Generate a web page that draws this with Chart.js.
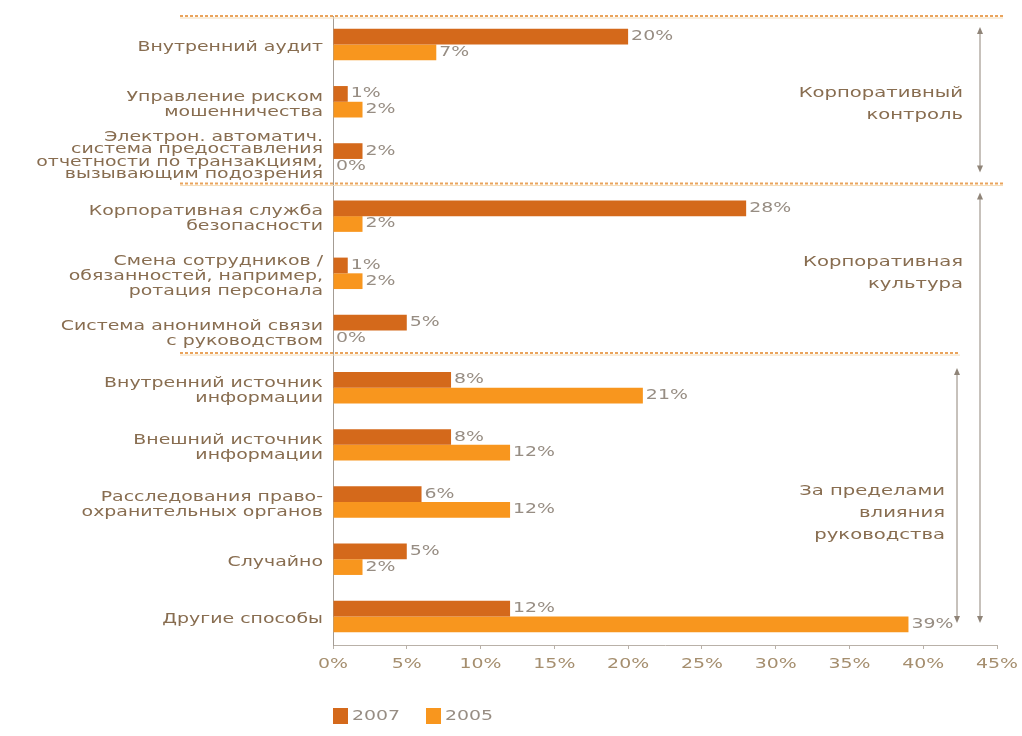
<!DOCTYPE html>
<html lang="ru">
<head>
<meta charset="utf-8">
<title>Способы выявления мошенничества</title>
<script src="https://cdn.jsdelivr.net/npm/chart.js@4.4.1/dist/chart.umd.min.js"></script>
<style>
  html, body { margin: 0; padding: 0; background: #fff; }
  #wrap { position: relative; width: 1022px; height: 736px; }
</style>
</head>
<body>
<div id="wrap"><canvas id="fraud-chart"></canvas></div>
<script>
(function () {
    'use strict';

    // Categories (multi-line labels), top to bottom
    const categories = [
        ['Внутренний аудит'],
        ['Управление риском', 'мошенничества'],
        ['Электрон. автоматич.', 'система предоставления', 'отчетности по транзакциям,', 'вызывающим подозрения'],
        ['Корпоративная служба', 'безопасности'],
        ['Смена сотрудников /', 'обязанностей, например,', 'ротация персонала'],
        ['Система анонимной связи', 'с руководством'],
        ['Внутренний источник', 'информации'],
        ['Внешний источник', 'информации'],
        ['Расследования право-', 'охранительных органов'],
        ['Случайно'],
        ['Другие способы'],
    ];
    const values2007 = [20, 1, 2, 28, 1, 5, 8, 8, 6, 5, 12];
    const values2005 = [7, 2, 0, 2, 2, 0, 21, 12, 12, 2, 39];
    const seriesNames = ['2007', '2005'];
    const xTickValues = [0, 5, 10, 15, 20, 25, 30, 35, 40, 45];

    // Right-hand groups: title lines and the first row of each group
    const groupTitles = [
        ['Корпоративный', 'контроль'],
        ['Корпоративная', 'культура'],
        ['За пределами', 'влияния', 'руководства'],
    ];
    const groupFirstRow = [0, 3, 6];

    const COLOR_2007 = '#d4691b';
    const COLOR_2005 = '#f8961e';
    const LABEL_COLOR = '#886d50';
    const VALUE_COLOR = '#978d83';
    const TICK_COLOR = '#a58e6e';
    const LINE_COLOR = '#eaa45c';
    const ARROW_COLOR = '#8f8478';
    const FONT = '"DejaVu Sans", sans-serif';
    const SX = 1.4; // horizontal stretch of all text

    function wideText(ctx, str, x, y, align) {
        ctx.save();
        ctx.translate(x, y);
        ctx.scale(SX, 1);
        ctx.textAlign = align;
        ctx.fillText(str, 0, 0);
        ctx.restore();
    }

    function divider(ctx, x1, x2, y) {
        ctx.save();
        ctx.strokeStyle = '#f6dcb6';
        ctx.lineWidth = 1;
        ctx.beginPath();
        ctx.moveTo(x1, y + 2);
        ctx.lineTo(x2, y + 2);
        ctx.stroke();
        ctx.strokeStyle = LINE_COLOR;
        ctx.lineWidth = 2;
        ctx.setLineDash([3, 2]);
        ctx.beginPath();
        ctx.moveTo(x1, y);
        ctx.lineTo(x2, y);
        ctx.stroke();
        ctx.restore();
    }

    function arrow(ctx, x, y1, y2) {
        ctx.save();
        ctx.strokeStyle = ARROW_COLOR;
        ctx.fillStyle = ARROW_COLOR;
        ctx.lineWidth = 1;
        ctx.beginPath();
        ctx.moveTo(x, y1 + 3);
        ctx.lineTo(x, y2 - 3);
        ctx.stroke();
        ctx.beginPath();
        ctx.moveTo(x, y1);
        ctx.lineTo(x - 3, y1 + 7);
        ctx.lineTo(x + 3, y1 + 7);
        ctx.closePath();
        ctx.fill();
        ctx.beginPath();
        ctx.moveTo(x, y2);
        ctx.lineTo(x - 3, y2 - 7);
        ctx.lineTo(x + 3, y2 - 7);
        ctx.closePath();
        ctx.fill();
        ctx.restore();
    }

    const decorPlugin = {
        id: 'decor',
        afterDraw(chart) {
            const { ctx, chartArea: area, scales: { x, y } } = chart;
            const slot = (y.bottom - y.top) / categories.length;
            const rowTop = (i) => y.getPixelForValue(i) - slot / 2;

            // section dividers
            const d2 = rowTop(groupFirstRow[1]) - 4;
            const d3 = rowTop(groupFirstRow[2]) - 6;
            divider(ctx, area.left - 153, area.right + 6, area.top);
            divider(ctx, area.left - 153, area.right + 6, d2);
            divider(ctx, area.left - 153, area.right - 37, d3);

            // category labels
            ctx.save();
            ctx.font = '13.5px ' + FONT;
            ctx.fillStyle = LABEL_COLOR;
            ctx.textBaseline = 'middle';
            categories.forEach((lines, i) => {
                const cy = y.getPixelForValue(i);
                const tall = lines.length > 3;
                const lh = tall ? 12.5 : 15;
                const y0 = cy - (lines.length - 1) * lh / 2 + (tall ? -3 : 3);
                lines.forEach((t, k) => wideText(ctx, t, area.left - 10, y0 + k * lh, 'right'));
            });
            ctx.restore();

            // value labels at bar ends
            ctx.save();
            ctx.font = '13.5px ' + FONT;
            ctx.fillStyle = VALUE_COLOR;
            ctx.textBaseline = 'middle';
            chart.data.datasets.forEach((ds, di) => {
                chart.getDatasetMeta(di).data.forEach((bar, i) => {
                    wideText(ctx, ds.data[i] + '%', bar.x + 3, bar.y, 'left');
                });
            });
            ctx.restore();

            // x tick labels
            ctx.save();
            ctx.font = '13.5px ' + FONT;
            ctx.fillStyle = TICK_COLOR;
            ctx.textBaseline = 'middle';
            xTickValues.forEach((v) => {
                wideText(ctx, v + '%', x.getPixelForValue(v), area.bottom + 19, 'center');
            });
            ctx.restore();

            // group titles and arrows
            const groupBottom = area.bottom - 22;
            arrow(ctx, area.right - 17, area.top + 11, d2 - 11);
            arrow(ctx, area.right - 17, d2 + 9, groupBottom);
            arrow(ctx, area.right - 40, d3 + 15, groupBottom);

            const spans = [[area.top, d2, area.right - 34], [d2, d3, area.right - 34], [d3, area.bottom, area.right - 52]];
            ctx.save();
            ctx.font = '14px ' + FONT;
            ctx.fillStyle = LABEL_COLOR;
            ctx.textBaseline = 'middle';
            groupTitles.forEach((lines, g) => {
                const [top, bottom, right] = spans[g];
                const lh = 22;
                const cy = (top + bottom) / 2 + (g === 2 ? 14 : 5);
                const y0 = cy - (lines.length - 1) * lh / 2;
                lines.forEach((t, k) => wideText(ctx, t, right, y0 + k * lh, 'right'));
            });
            ctx.restore();

            // legend
            ctx.save();
            ctx.font = '13.5px ' + FONT;
            ctx.textBaseline = 'middle';
            let lx = area.left;
            const ly = area.bottom + 71;
            chart.data.datasets.forEach((ds) => {
                ctx.fillStyle = ds.backgroundColor;
                ctx.fillRect(lx, ly - 8, 15, 16);
                ctx.fillStyle = VALUE_COLOR;
                wideText(ctx, ds.label, lx + 19, ly, 'left');
                lx += 93;
            });
            ctx.restore();
        },
    };

    new Chart(document.getElementById('fraud-chart'), {
        type: 'bar',
        data: {
            labels: categories,
            datasets: [
                {
                    label: seriesNames[0],
                    data: values2007,
                    backgroundColor: COLOR_2007,
                    categoryPercentage: 0.55,
                    barPercentage: 1,
                },
                {
                    label: seriesNames[1],
                    data: values2005,
                    backgroundColor: COLOR_2005,
                    categoryPercentage: 0.55,
                    barPercentage: 1,
                },
            ],
        },
        options: {
            indexAxis: 'y',
            responsive: true,
            maintainAspectRatio: false,
            animation: false,
            layout: { padding: { left: 333, right: 25, top: 16, bottom: 91 } },
            plugins: {
                legend: { display: false },
                tooltip: { enabled: false },
            },
            scales: {
                x: {
                    min: 0,
                    max: 45,
                    ticks: { stepSize: 5, display: false },
                    grid: { drawOnChartArea: false, drawTicks: true, tickLength: 4, color: '#b9b1a8' },
                    border: { display: true, color: '#b9b1a8', width: 1 },
                    afterFit: (s) => { s.height = 0; },
                },
                y: {
                    ticks: { display: false },
                    grid: { display: false },
                    border: { display: true, color: '#a49c94', width: 1 },
                    afterFit: (s) => { s.width = 0; },
                },
            },
        },
        plugins: [decorPlugin],
    });
})();
</script>
</body>
</html>
